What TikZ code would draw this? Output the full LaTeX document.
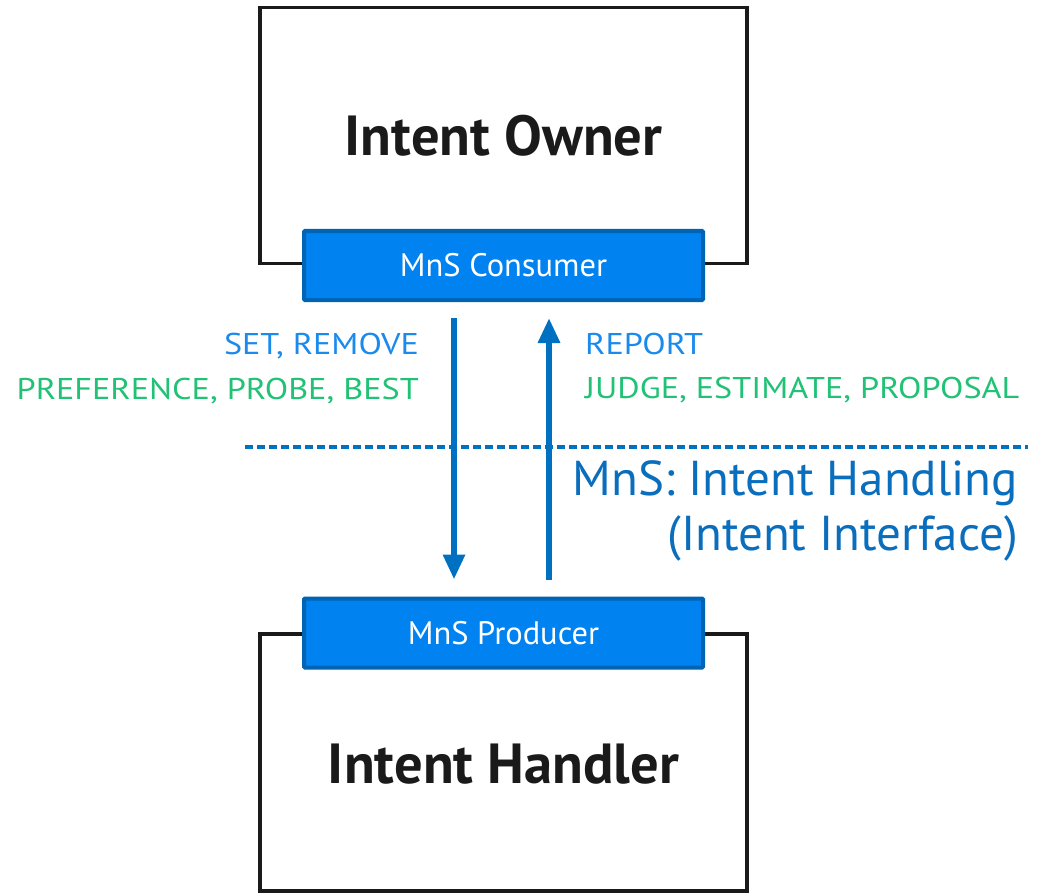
\documentclass[tikz,border=0pt]{standalone}
\usepackage{fontspec}
\setmainfont{PT Sans}
\newfontfamily\opfont{PT Sans}[FakeStretch=1.14]
\usetikzlibrary{arrows.meta}
\definecolor{mnsfill}{HTML}{0082F0}
\definecolor{mnsedge}{HTML}{0064B4}
\definecolor{flowblue}{HTML}{0070C0}
\definecolor{opblue}{HTML}{1A8AEC}
\definecolor{opgreen}{HTML}{21C275}
\definecolor{ifblue}{HTML}{0A6EBD}
\definecolor{boxline}{HTML}{1A1A1A}
\tikzset{
  entity/.style={draw=boxline, line width=3.5pt, fill=white, minimum width=487pt, inner sep=0pt},
  mns/.style={draw=mnsedge, fill=mnsfill, line width=4pt, minimum width=399pt, minimum height=69pt,
    inner sep=0pt, text=white, font=\fontsize{32.5}{36}\selectfont, rounded corners=1pt},
  title/.style={font=\fontsize{56.5}{64}\selectfont\bfseries, text=boxline, inner sep=0pt},
  flow/.style={draw=flowblue, line width=6pt, -{Triangle[width=21pt,length=25pt]}},
  op/.style={font=\opfont\fontsize{30}{34}\selectfont, inner sep=0pt},
  iface/.style={font=\fontsize{49}{56}\selectfont, text=ifblue, inner sep=0pt, anchor=base east},
  boundary/.style={draw=flowblue, line width=3.5pt, dash pattern=on 8pt off 4pt}
}
\begin{document}
\begin{tikzpicture}[x=1pt, y=-1pt]
  \useasboundingbox (0,0) rectangle (1048,893);
  % entities
  \node[entity, minimum height=256pt] (owner) at (503.5,135.5) {};
  \node[entity, minimum height=257pt] (handler) at (503.5,762.5) {};
  \node[title, anchor=base] (ownertxt) at (503.5,156) {Intent Owner};
  \node[title, anchor=base] (handlertxt) at (503.5,783) {Intent Handler};
  % management service endpoints
  \node[mns] (consumer) at (503.5,265.5) {MnS Consumer};
  \node[mns] (producer) at (503.5,633) {MnS Producer};
  % interface boundary
  \coordinate (bl) at (245,447);
  \coordinate (br) at (1028,447);
  \draw[boundary] (bl) -- (br);
  % request and notification flows
  \coordinate (dx) at (454,0);
  \coordinate (ux) at (549,0);
  \draw[flow, shorten <=16pt, shorten >=17pt] (consumer.south -| dx) -- (producer.north -| dx);
  \draw[flow, shorten <=17pt, shorten >=16pt] (producer.north -| ux) -- (consumer.south -| ux);
  % operation labels
  \node[op, text=opblue, anchor=base east] (reqa) at (419,354) {SET, REMOVE};
  \node[op, text=opgreen, anchor=base east] (reqb) at (419,399) {PREFERENCE, PROBE, BEST};
  \node[op, text=opblue, anchor=base west] (repa) at (585,354) {REPORT};
  \node[op, text=opgreen, anchor=base west] (repb) at (585,398) {JUDGE, ESTIMATE, PROPOSAL};
  % interface name
  \node[iface] (ifname) at (1018,495) {MnS: Intent Handling};
  \node[iface] (ifsub) at (1018,550) {(Intent Interface)};
\end{tikzpicture}
\end{document}
